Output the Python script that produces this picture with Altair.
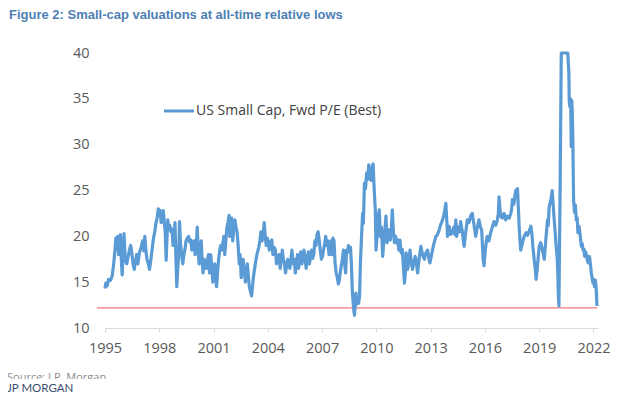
import altair as alt
import pandas as pd

years = [
1995.00,1995.05,1995.12,1995.20,1995.30,1995.40,1995.48,1995.55,1995.60,1995.65,1995.70,1995.75,1995.80,1995.85,1995.90,1995.95,
1996.00,1996.05,1996.12,1996.20,1996.28,1996.35,1996.42,1996.48,1996.55,1996.62,1996.68,1996.75,1996.82,1996.90,
1997.00,1997.08,1997.15,1997.20,1997.26,1997.32,1997.40,1997.46,1997.52,1997.60,1997.68,1997.75,1997.82,1997.88,1997.95,
1998.00,1998.05,1998.10,1998.16,1998.22,1998.28,1998.33,1998.38,1998.42,1998.47,1998.52,1998.58,1998.64,1998.70,1998.76,1998.82,1998.87,1998.92,1998.97,
1999.02,1999.07,1999.12,1999.18,1999.24,1999.30,1999.36,1999.42,1999.48,1999.55,1999.62,1999.68,1999.74,1999.80,1999.86,1999.92,1999.98,
2000.04,2000.10,2000.15,2000.20,2000.26,2000.32,2000.37,2000.42,2000.48,2000.54,2000.60,2000.66,2000.72,2000.78,2000.84,2000.90,2000.96,
2001.02,2001.07,2001.12,2001.17,2001.22,2001.28,2001.34,2001.40,2001.46,2001.52,2001.57,2001.62,2001.68,2001.74,2001.80,2001.86,2001.90,2001.95,
2002.00,2002.06,2002.12,2002.18,2002.24,2002.30,2002.36,2002.42,2002.47,2002.53,2002.58,2002.64,2002.70,2002.76,2002.82,2002.87,2002.93,2002.98,
2003.04,2003.10,2003.15,2003.20,2003.27,2003.35,2003.42,2003.50,2003.56,2003.62,2003.68,2003.74,2003.80,2003.86,2003.91,2003.96,
2004.02,2004.08,2004.15,2004.22,2004.28,2004.35,2004.42,2004.48,2004.55,2004.62,2004.68,2004.74,2004.80,2004.86,2004.92,2004.98,
2005.04,2005.10,2005.16,2005.22,2005.28,2005.33,2005.40,2005.46,2005.52,2005.58,2005.64,2005.70,2005.76,2005.82,2005.88,2005.94,
2006.00,2006.06,2006.12,2006.18,2006.24,2006.30,2006.36,2006.42,2006.48,2006.54,2006.60,2006.66,2006.72,2006.78,2006.84,2006.90,2006.96,
2007.02,2007.08,2007.14,2007.20,2007.26,2007.32,2007.38,2007.44,2007.50,2007.55,2007.60,2007.66,2007.72,2007.78,2007.84,2007.90,2007.95,
2008.00,2008.06,2008.12,2008.18,2008.24,2008.30,2008.35,2008.40,2008.46,2008.52,2008.57,2008.62,2008.67,2008.71,2008.75,2008.79,2008.83,2008.87,2008.92,2008.97,
2009.02,2009.07,2009.12,2009.18,2009.24,2009.28,2009.34,2009.40,2009.46,2009.52,2009.58,2009.64,2009.70,2009.76,2009.82,2009.88,2009.94,2009.98,
2010.04,2010.10,2010.16,2010.22,2010.28,2010.35,2010.41,2010.47,2010.53,2010.59,2010.65,2010.71,2010.77,2010.83,2010.88,2010.94,
2011.00,2011.06,2011.12,2011.18,2011.24,2011.30,2011.37,2011.43,2011.50,2011.55,2011.60,2011.64,2011.69,2011.73,2011.80,2011.86,2011.93,
2012.00,2012.07,2012.15,2012.22,2012.28,2012.36,2012.46,2012.55,2012.65,2012.74,2012.83,2012.90,2012.96,
2013.03,2013.10,2013.18,2013.29,2013.38,2013.47,2013.56,2013.66,2013.75,2013.84,2013.90,2013.93,
2014.02,2014.10,2014.20,2014.28,2014.34,2014.39,2014.44,2014.52,2014.60,2014.66,2014.75,2014.85,2014.94,
2015.03,2015.12,2015.21,2015.30,2015.40,2015.49,2015.58,2015.67,2015.75,2015.82,2015.90,2015.95,
2016.02,2016.08,2016.13,2016.22,2016.32,2016.41,2016.50,2016.60,2016.69,2016.74,2016.78,2016.83,2016.87,2016.96,
2017.06,2017.15,2017.24,2017.34,2017.43,2017.48,2017.52,2017.60,2017.70,2017.80,2017.85,2017.89,2017.94,2017.98,
2018.06,2018.17,2018.28,2018.35,2018.45,2018.54,2018.60,2018.65,2018.72,2018.78,2018.83,2018.88,2018.95,
2019.00,2019.08,2019.18,2019.28,2019.36,2019.46,2019.50,2019.55,2019.65,2019.72,2019.78,2019.83,2019.88,2019.94,
2020.00,2020.03,2020.06,2020.09,2020.16,2020.22,2020.30,2020.40,2020.50,2020.58,2020.62,2020.64,2020.66,2020.70,2020.74,2020.77,2020.80,2020.83,2020.86,2020.90,2020.95,
2021.00,2021.05,2021.10,2021.14,2021.20,2021.26,2021.33,2021.38,2021.42,2021.48,2021.51,2021.56,2021.60,2021.66,2021.70,2021.75,2021.78,2021.84,2021.88,2021.93,2021.97,
2022.02,2022.06,2022.11,2022.15,2022.17,2022.19,
]

pe = [
14.3,14.9,14.6,15.3,15.2,15.7,17.0,18.5,19.8,18.6,20.0,18.0,19.2,20.2,17.5,15.8,
18.0,20.3,17.5,17.0,17.8,18.5,19.0,18.2,17.0,16.4,17.3,18.0,17.0,18.2,
18.8,19.5,18.4,20.0,18.5,17.5,17.0,16.4,17.2,18.5,19.8,20.5,21.5,22.0,23.0,
22.4,22.8,21.5,22.0,22.8,21.5,20.4,17.4,19.5,21.8,20.8,21.2,20.5,20.8,19.0,19.8,21.5,17.5,14.5,
16.5,17.8,21.6,19.0,18.0,17.0,18.0,18.6,19.5,19.8,20.0,19.4,19.6,18.5,19.0,19.5,18.0,
18.8,21.0,18.5,17.0,18.4,19.5,17.2,16.0,17.5,17.0,16.5,17.4,18.0,16.0,18.0,16.8,15.0,
16.2,17.0,15.5,14.5,16.0,17.5,18.5,19.0,18.5,19.3,20.0,18.0,19.5,21.0,21.5,22.3,20.0,21.2,
22.0,19.5,20.8,21.8,21.0,20.5,19.0,17.0,18.0,15.5,16.5,17.5,16.2,15.0,16.0,17.0,15.5,14.5,
14.0,13.5,14.4,15.5,16.5,17.5,18.2,18.8,19.5,20.5,19.5,20.2,21.5,20.0,19.0,19.8,
19.5,18.5,19.3,19.6,18.0,18.8,18.5,17.0,17.8,18.0,16.5,17.4,18.5,17.5,17.0,16.0,
16.8,17.5,17.0,16.5,17.6,18.5,17.0,17.5,16.0,17.2,18.0,16.5,17.5,18.3,17.0,17.6,
18.5,17.5,16.5,17.5,18.3,17.0,17.8,18.5,17.6,18.0,19.5,19.0,20.2,20.5,19.6,18.5,17.5,
17.8,18.5,19.2,20.0,19.0,19.5,18.0,18.8,19.5,18.0,19.8,19.5,17.0,16.0,15.5,14.8,15.2,
16.0,16.8,17.5,18.5,17.2,16.0,18.5,18.2,19.0,18.5,18.8,17.0,14.0,13.0,12.0,11.4,12.5,13.8,12.6,13.2,
12.7,13.5,17.2,20.0,22.5,21.4,25.8,25.2,26.9,26.2,27.8,26.5,26.1,27.5,27.9,25.1,22.9,18.5,
20.0,22.2,22.9,20.0,21.0,17.8,19.5,20.7,22.2,19.3,20.0,20.7,19.6,21.0,22.9,20.5,
19.3,20.0,19.3,19.6,18.5,19.6,18.2,18.6,16.5,14.9,16.0,18.2,17.5,16.4,17.5,18.5,17.1,
16.4,17.2,17.8,17.0,16.0,17.5,18.9,18.0,17.5,18.2,18.5,17.6,17.1,
17.8,18.5,19.2,20.0,20.2,20.7,21.3,21.8,22.5,23.6,21.5,20.0,
21.1,20.2,20.4,21.0,20.2,21.8,20.0,21.0,20.5,21.6,20.5,18.9,20.5,
21.8,21.5,22.2,22.5,21.2,20.0,21.0,21.8,21.0,20.7,17.5,16.8,
18.5,19.5,20.0,19.5,20.4,21.0,21.6,21.2,21.8,22.5,24.3,23.0,22.2,22.0,
22.5,21.8,22.2,22.0,22.5,23.0,24.0,23.5,25.0,25.2,23.0,21.1,19.5,18.5,
19.2,20.0,20.4,20.1,20.6,21.1,20.2,18.9,17.5,16.5,15.3,16.2,17.8,
18.9,19.3,18.5,17.5,19.5,21.8,21.2,23.2,24.0,25.0,23.2,21.8,20.5,18.9,
17.5,16.0,13.5,12.4,26.0,40.0,40.0,40.0,40.0,40.0,38.5,37.8,34.8,34.1,35.0,29.8,34.8,33.5,30.5,24.0,22.6,
23.4,21.8,22.0,20.4,21.1,20.2,18.9,19.2,18.5,18.6,17.8,18.3,18.1,17.4,17.1,17.6,17.8,16.8,16.0,15.4,14.9,
15.3,14.5,15.2,14.3,13.5,12.4,
]

x_ticks = [1995, 1998, 2001, 2004, 2007, 2010, 2013, 2016, 2019, 2022]
y_ticks = [10, 15, 20, 25, 30, 35, 40]

low_level = [12.2]
low_start = [1994.55]
low_end = [2022.2]

title_text = ["Figure 2: Small-cap valuations at all-time relative lows"]
legend_text = ["US Small Cap, Fwd P/E (Best)"]
source_text = ["Source: J.P. Morgan"]
brand_text = ["JP MORGAN"]

BLUE = "#5b9bd5"

df = pd.DataFrame({"year": years, "pe": pe})
low_df = pd.DataFrame({"x": low_start, "x2": low_end, "y": low_level})

xscale = alt.Scale(domain=[1995, 2022.25], nice=False, zero=False)
yscale = alt.Scale(domain=[10, 40], nice=False, zero=False)

line = alt.Chart(df).mark_line(color=BLUE, strokeWidth=3.2, strokeJoin="round").encode(
    x=alt.X("year:Q", scale=xscale,
            axis=alt.Axis(values=x_ticks, format="d", title=None, grid=False,
                          domainColor="#d9d9d9", tickColor="#d9d9d9", tickSize=4,
                          labelPadding=9, labelFontSize=14.5, labelColor="#595959",
                          labelFont="Open Sans", labelFlush=False)),
    y=alt.Y("pe:Q", scale=yscale,
            axis=alt.Axis(values=y_ticks, title=None, grid=False, domain=False,
                          ticks=False, tickSize=0, labelPadding=16, labelFontSize=14.5,
                          labelColor="#595959", labelFont="Open Sans")),
)

low = alt.Chart(low_df).mark_rule(color="#f07878", strokeWidth=1.3).encode(
    x="x:Q", x2="x2:Q", y="y:Q"
)

leg_line = alt.Chart(pd.DataFrame({"t": legend_text})).mark_rule(color=BLUE, strokeWidth=3).encode(
    x=alt.value(59), x2=alt.value(89), y=alt.value(58)
)
leg_text = alt.Chart(pd.DataFrame({"t": legend_text})).mark_text(
    align="left", baseline="middle", font="Open Sans", fontSize=14, color="#404040"
).encode(x=alt.value(91), y=alt.value(58), text="t:N")

title = alt.Chart(pd.DataFrame({"t": title_text})).mark_text(
    align="left", baseline="middle", font="Liberation Sans", fontSize=13, fontWeight="bold",
    color="#4d7fb5"
).encode(x=alt.value(-96), y=alt.value(-38), text="t:N")

source = alt.Chart(pd.DataFrame({"t": source_text})).mark_text(
    align="left", baseline="middle", font="Open Sans", fontSize=11, color="#8c8c8c"
).encode(x=alt.value(-98), y=alt.value(325), text="t:N")

mask = alt.Chart(pd.DataFrame({"t": source_text})).mark_rect(color="white").encode(
    x=alt.value(-100), x2=alt.value(400), y=alt.value(326), y2=alt.value(342)
)

brand = alt.Chart(pd.DataFrame({"t": brand_text})).mark_text(
    align="left", baseline="middle", font="Lato", fontSize=11.5, color="#3a4f6e"
).encode(x=alt.value(-98), y=alt.value(336), text="t:N")

chart = alt.layer(low, line, leg_line, leg_text, title, source, mask, brand).properties(
    width=493, height=275,
    autosize=alt.AutoSizeParams(type="none"),
    padding={"left": 97, "top": 45, "right": 24, "bottom": 66},
).configure_view(stroke=None)

chart.save("out.html", embed_options={"renderer": "svg", "actions": False})
